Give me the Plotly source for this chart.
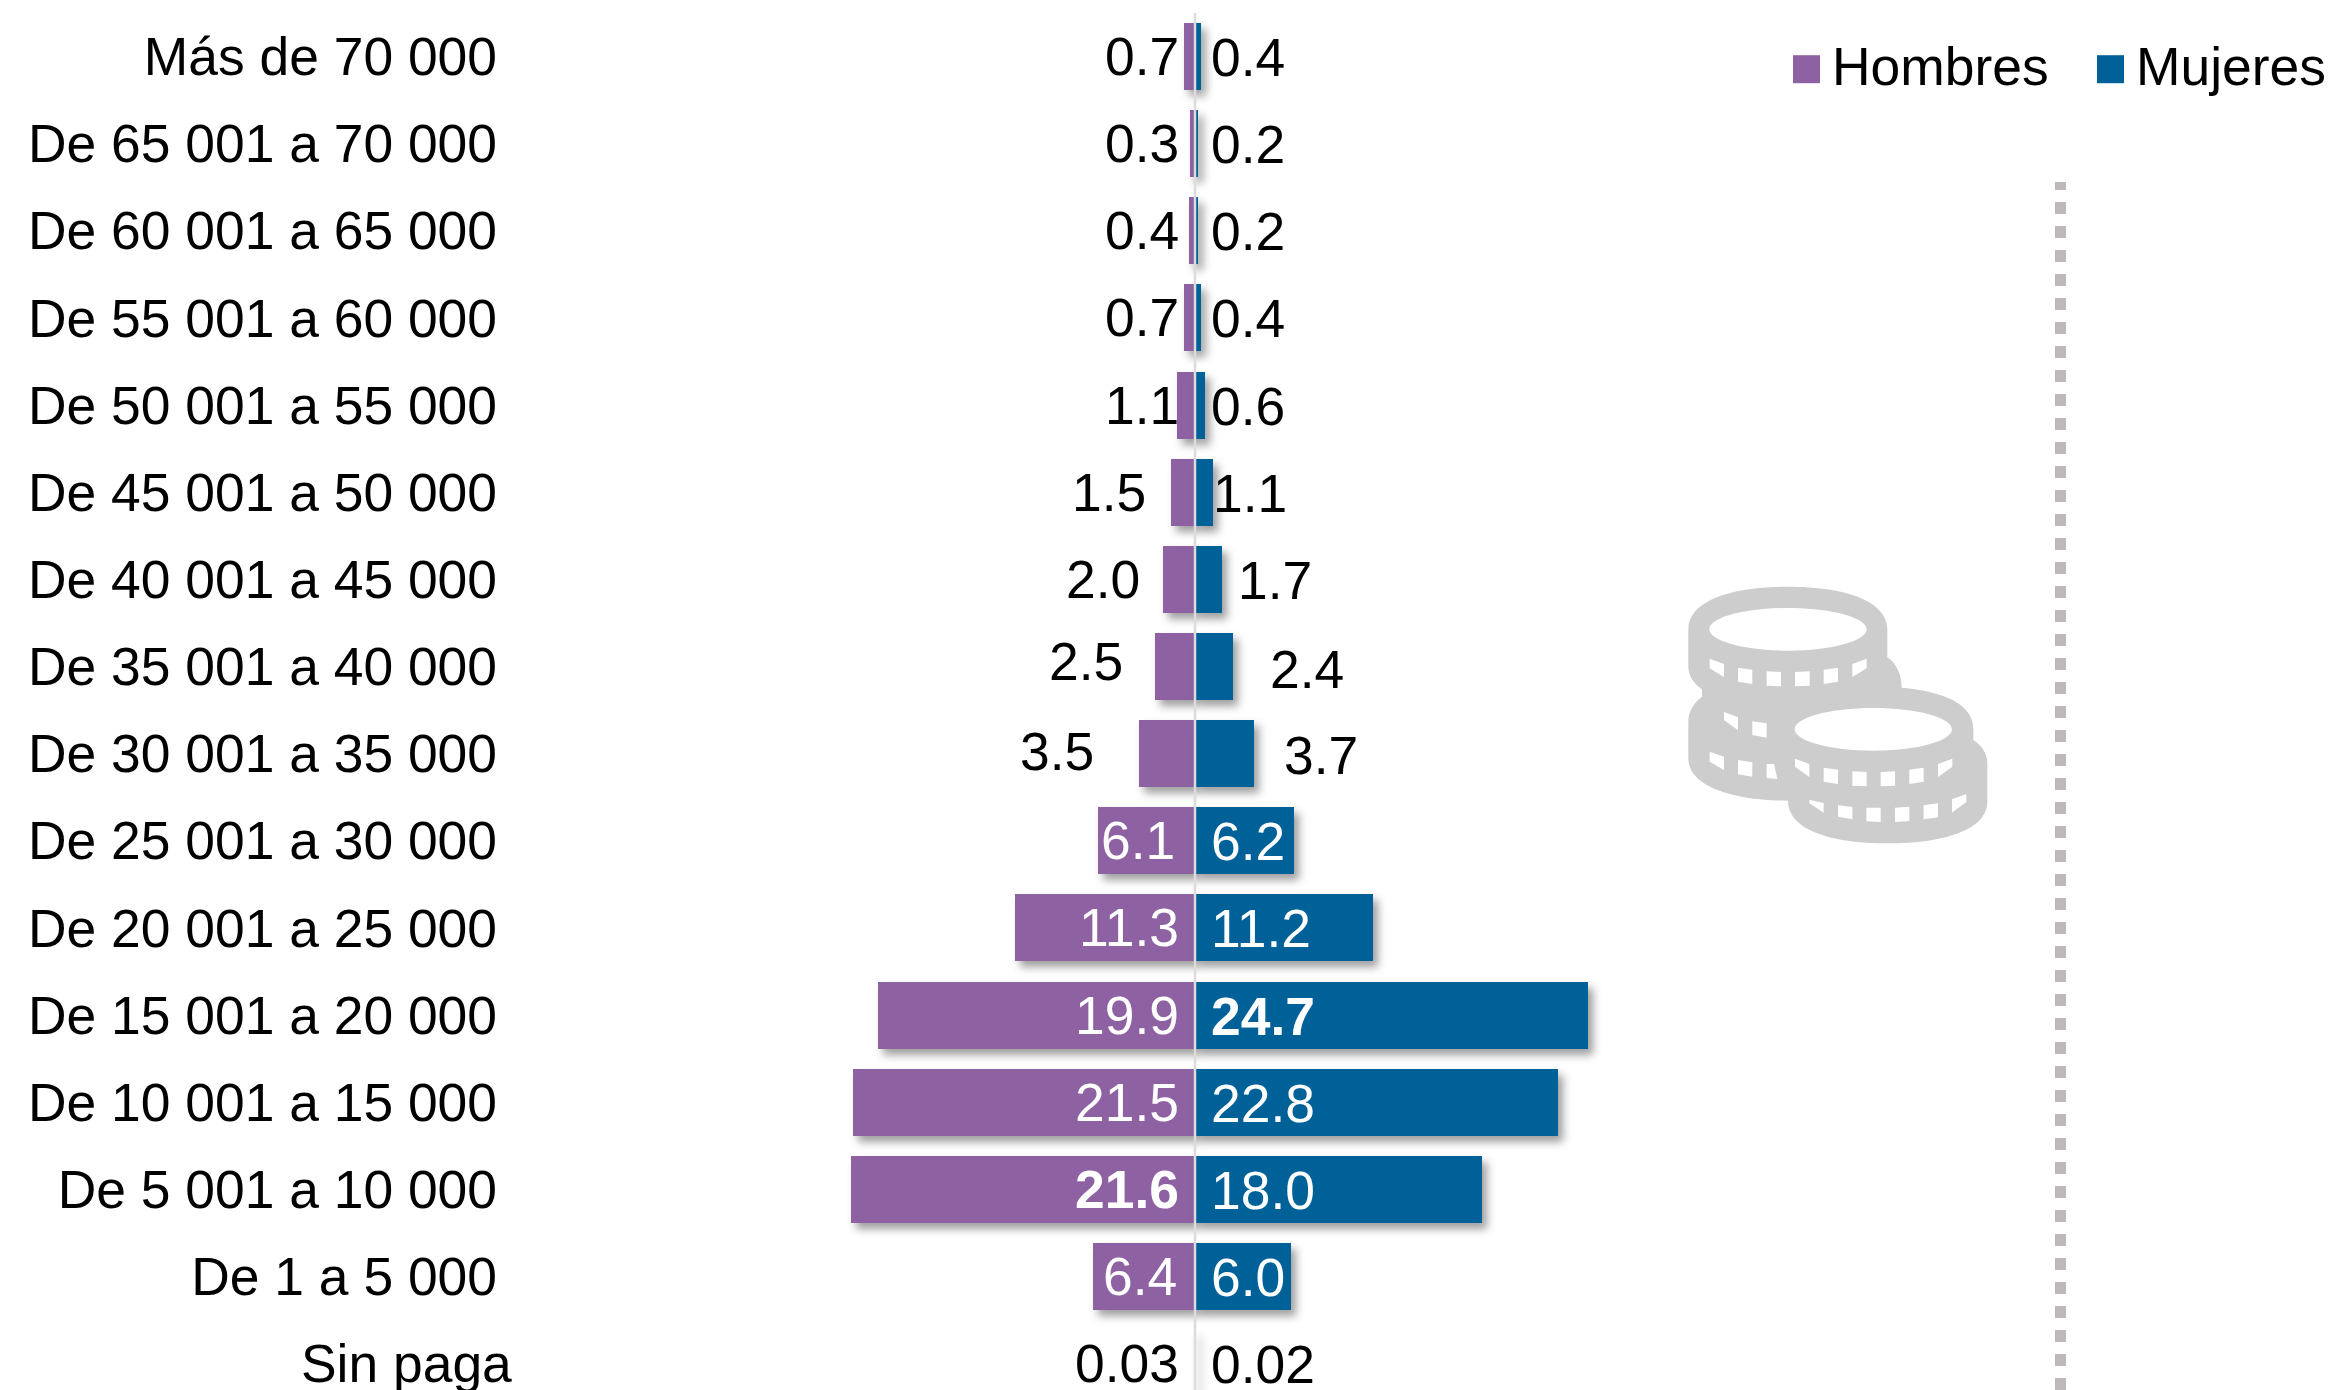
import re
import plotly.graph_objects as go

categories = ["Más de 70 000", "De 65 001 a 70 000", "De 60 001 a 65 000", "De 55 001 a 60 000",
              "De 50 001 a 55 000", "De 45 001 a 50 000", "De 40 001 a 45 000", "De 35 001 a 40 000",
              "De 30 001 a 35 000", "De 25 001 a 30 000", "De 20 001 a 25 000", "De 15 001 a 20 000",
              "De 10 001 a 15 000", "De 5 001 a 10 000", "De 1 a 5 000", "Sin paga"]
hombres = [0.7, 0.3, 0.4, 0.7, 1.1, 1.5, 2.0, 2.5, 3.5, 6.1, 11.3, 19.9, 21.5, 21.6, 6.4, 0.03]
mujeres = [0.4, 0.2, 0.2, 0.4, 0.6, 1.1, 1.7, 2.4, 3.7, 6.2, 11.2, 24.7, 22.8, 18.0, 6.0, 0.02]
hombres_text = ["0.7", "0.3", "0.4", "0.7", "1.1", "1.5", "2.0", "2.5", "3.5", "6.1", "11.3", "19.9", "21.5", "<b>21.6</b>", "6.4", "0.03"]
mujeres_text = ["0.4", "0.2", "0.2", "0.4", "0.6", "1.1", "1.7", "2.4", "3.7", "6.2", "11.2", "<b>24.7</b>", "22.8", "18.0", "6.0", "0.02"]

# label placement (pixels from the centre line) and colours
h_shift = [-14, -14, -14, -14, -14, -47, -53, -70, -99, -18, -14, -14, -14, -14, -16, -14]
m_shift = [14, 14, 14, 14, 14, 16, 41, 73, 87, 14, 14, 14, 14, 14, 14, 14]
h_dy = [0, 0, 0, 0, 0, 0, 0, 5, 2, 0, 0, 0, 0, 0, 0, 0]
m_dy = [-1, -1, -1, -1, -1, -1, -1, -3, -2, -1, -1, -1, -1, -1, -1, -1]
white_from, white_to = 9, 14

W, H = 2335, 1390
PX = 15.93
X0 = 1195
LEFT = 498
FONT = "Liberation Sans, Arial, sans-serif"
FS = 53.4
PURPLE = "#8E61A3"
BLUE = "#006199"
ROW0, PITCH = 56.5, 87.14


def coin_path():
    """Coin icon, traced in a 3x crop whose origin is (1650, 540)."""
    def ell(cx, cy, rx, ry):
        k = 0.5523
        return (f"M{cx-rx},{cy} C{cx-rx},{cy-k*ry} {cx-k*rx},{cy-ry} {cx},{cy-ry} "
                f"C{cx+k*rx},{cy-ry} {cx+rx},{cy-k*ry} {cx+rx},{cy} "
                f"C{cx+rx},{cy+k*ry} {cx+k*rx},{cy+ry} {cx},{cy+ry} "
                f"C{cx-k*rx},{cy+ry} {cx-rx},{cy+k*ry} {cx-rx},{cy} Z ")
    p = ("M115,268 C115,180 250,140 414,140 C580,140 712,180 712,268 L712,352 "
         "C740,370 755,405 755,443 C880,455 970,490 970,568 L970,600 C1000,620 1012,645 1012,670 "
         "L1012,785 C1012,870 880,910 712,910 C545,910 414,870 414,782 C250,782 115,740 115,655 "
         "L115,545 C115,515 130,490 156,470 L156,448 C130,430 115,405 115,380 Z ")
    p += ell(414, 268, 236, 64) + ell(670, 568, 236, 64)
    quads = [
        (179,356,222,372,222,411,179,385), (264,383,307,389,307,432,264,425),
        (350,394,393,396,393,439,350,437), (435,396,479,394,479,437,435,439),
        (521,389,564,383,564,425,521,432), (607,372,650,356,650,385,607,411),
        (222,516,264,532,264,571,222,540), (307,544,350,550,350,593,307,585),
        (179,635,222,650,222,690,179,665), (264,660,307,667,307,710,264,703),
        (350,672,372,672,382,717,350,714),
        (435,656,478,672,478,711,435,680), (521,683,564,689,564,732,521,725),
        (607,694,650,696,650,739,607,737), (692,696,735,694,735,737,692,739),
        (778,689,821,683,821,725,778,732), (864,672,907,656,907,680,864,711),
        (478,779,521,789,521,818,478,790), (564,796,607,801,607,838,564,830),
        (649,803,692,803,692,846,649,844), (735,803,778,800,778,843,735,846),
        (821,796,864,790,864,832,821,838), (906,778,949,762,949,786,906,818),
    ]
    for q in quads:
        p += f"M{q[0]},{q[1]} L{q[2]},{q[3]} L{q[4]},{q[5]} L{q[6]},{q[7]} Z "

    def conv(m):
        x = 1650 + float(m.group(1)) / 3
        y = 540 + float(m.group(2)) / 3
        return f"{x / W:.5f},{1 - y / H:.5f}"
    return re.sub(r"(-?[\d.]+),(-?[\d.]+)", conv, p)


fig = go.Figure()
fig.add_trace(go.Bar(name="Hombres", y=categories, x=[-v for v in hombres], orientation="h",
                     marker=dict(color=PURPLE, line_width=0), width=67 / PITCH, hoverinfo="skip"))
fig.add_trace(go.Bar(name="Mujeres", y=categories, x=mujeres, orientation="h",
                     marker=dict(color=BLUE, line_width=0), width=67 / PITCH, hoverinfo="skip"))

annotations = []
for i, cat in enumerate(categories):
    col = "white" if white_from <= i < white_to + 1 and i != 15 else "black"
    annotations.append(dict(x=0, y=cat, xref="x", yref="y", text=hombres_text[i], showarrow=False,
                            xanchor="right", xshift=h_shift[i], yshift=h_dy[i],
                            font=dict(family=FONT, size=FS, color=col)))
    annotations.append(dict(x=0, y=cat, xref="x", yref="y", text=mujeres_text[i], showarrow=False,
                            xanchor="left", xshift=m_shift[i], yshift=m_dy[i],
                            font=dict(family=FONT, size=FS, color=col)))
annotations.append(dict(x=0, y=categories[-1], xref="x", yref="y", text=categories[-1], showarrow=False,
                        xanchor="right", xshift=514 - X0, yshift=0,
                        font=dict(family=FONT, size=FS, color="black")))

shapes = [
    dict(type="line", xref="x", yref="paper", x0=0, x1=0, y0=0, y1=1 - 13 / H,
         line=dict(color="#DCDCDC", width=2.5), layer="above"),
    dict(type="line", xref="paper", yref="paper", x0=2060.5 / W, x1=2060.5 / W, y0=0, y1=1 - 182 / H,
         line=dict(color="#BDB9B9", width=11, dash="12px,12px"), layer="above"),
    dict(type="path", xref="paper", yref="paper", path=coin_path(), fillcolor="#CDCDCD",
         line_width=0, fillrule="evenodd", layer="above"),
]

fig.update_layout(
    width=W, height=H, autosize=False,
    margin=dict(l=0, r=0, t=0, b=0, pad=0, autoexpand=False),
    paper_bgcolor="white", plot_bgcolor="white",
    barmode="relative", bargap=0,
    font=dict(family=FONT, size=FS, color="black"),
    xaxis=dict(domain=[LEFT / W, 1], range=[-(X0 - LEFT) / PX, (W - X0) / PX], visible=False, fixedrange=True),
    yaxis=dict(type="category", categoryorder="array", categoryarray=categories,
               range=[(H - ROW0) / PITCH, -ROW0 / PITCH], showgrid=False, zeroline=False, showline=False,
               ticks="", tickmode="array", tickvals=categories,
               ticktext=categories[:-1] + [" "], tickfont=dict(family=FONT, size=FS, color="black"),
               automargin=False, fixedrange=True),
    legend=dict(orientation="h", x=1792 / W, xanchor="left", y=1 - 23 / H, yanchor="top",
                traceorder="normal", entrywidth=259, entrywidthmode="pixels",
                font=dict(family=FONT, size=FS, color="black"), bgcolor="rgba(0,0,0,0)",
                itemclick=False, itemdoubleclick=False),
    annotations=annotations, shapes=shapes, showlegend=True,
)

post = """
document.documentElement.style.margin='0';
document.body.style.margin='0';
document.body.style.overflow='hidden';
document.querySelectorAll('.bars .point path').forEach(function(p){
  p.style.filter='drop-shadow(5px 6px 4px rgba(0,0,0,0.38))';
});
document.querySelectorAll('.legend .legendpoints path').forEach(function(p){
  p.setAttribute('d','M8,19H-19V-9H8Z');
});
"""
fig.write_html("out.html", config={"displayModeBar": False}, post_script=post)
